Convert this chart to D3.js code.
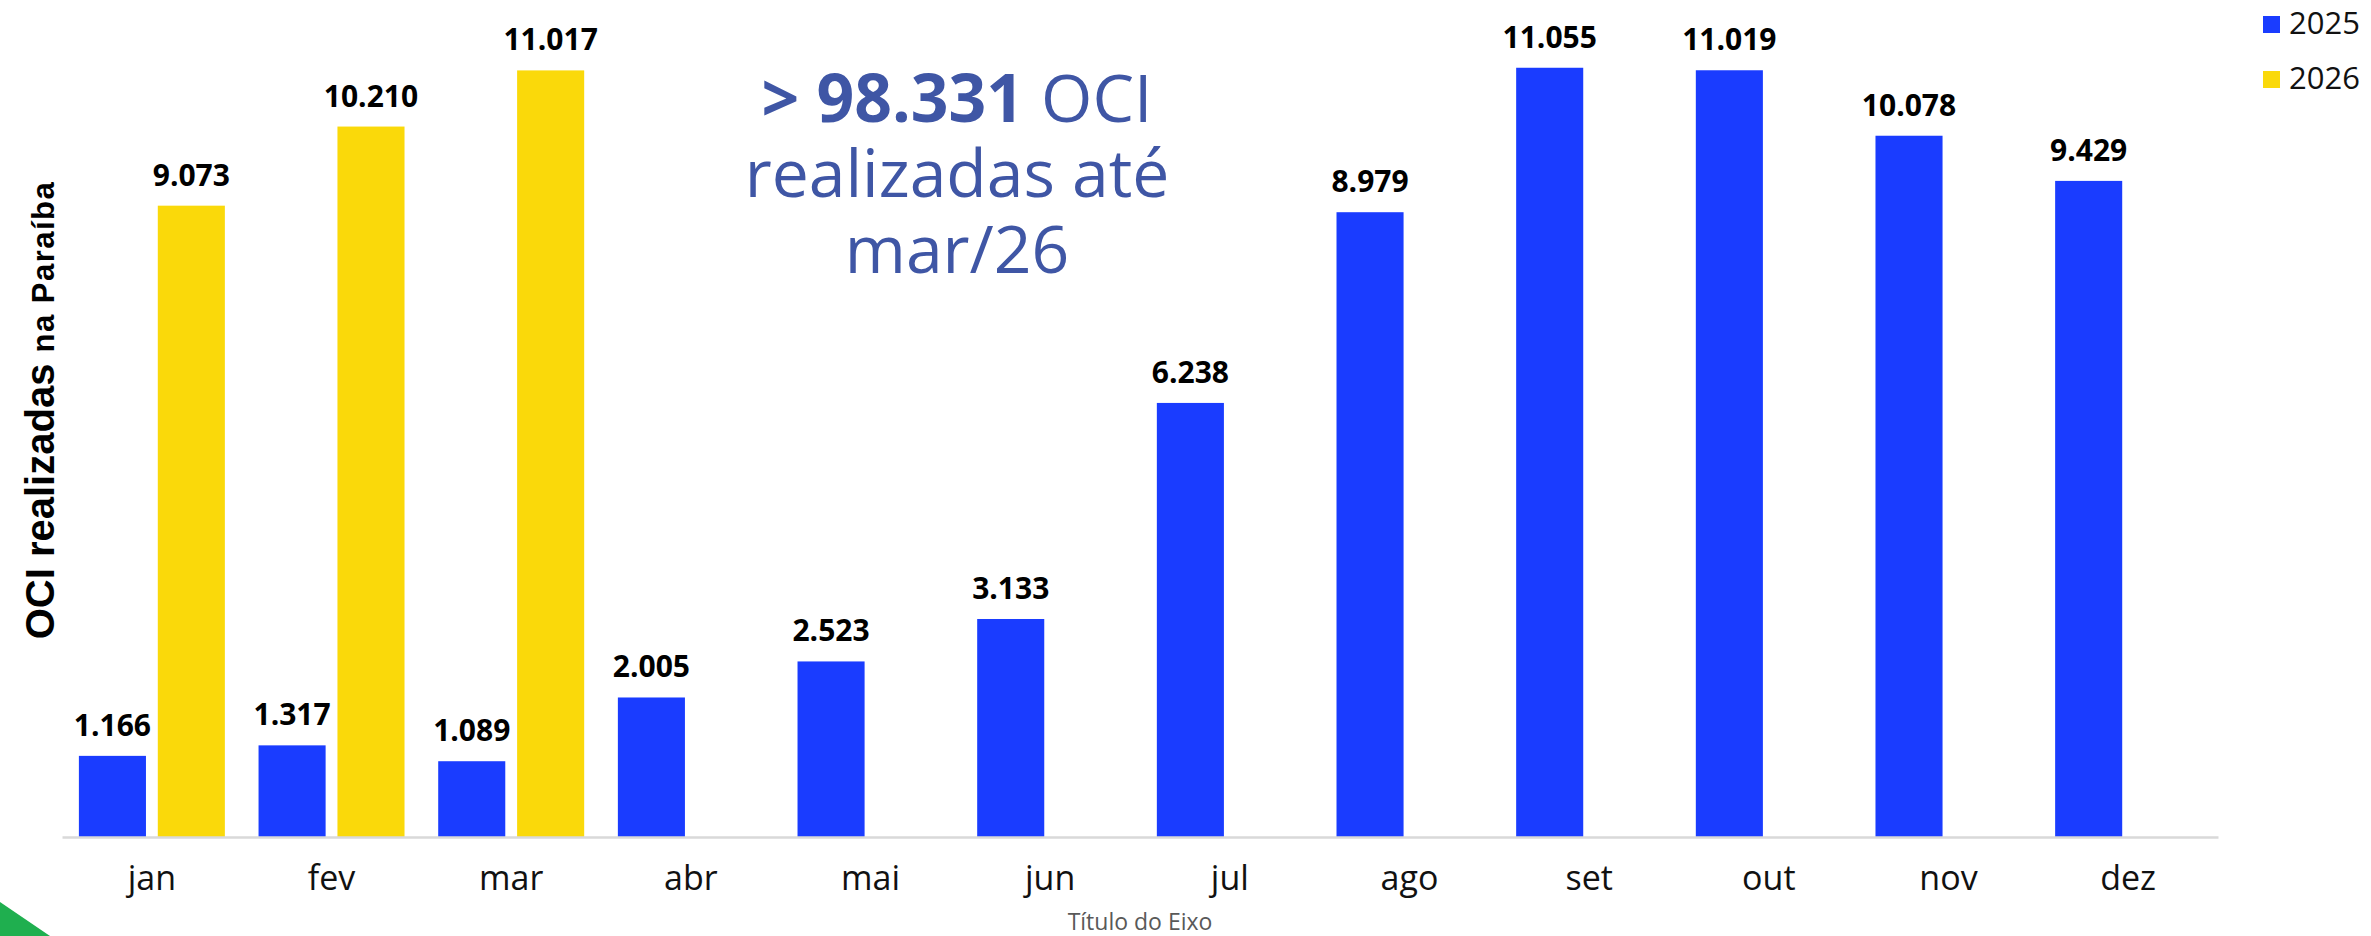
<!DOCTYPE html>
<html lang="pt">
<head>
<meta charset="UTF-8">
<title>OCI realizadas na Paraíba</title>
<script src="https://cdn.jsdelivr.net/npm/d3@7"></script>
<style>
  body { margin: 0; background: #fff; }
  svg { display: block; }
</style>
</head>
<body>
<div id="app"></div>
<script>
var width = 2371;
var height = 936;

// dados
var months = ["jan", "fev", "mar", "abr", "mai", "jun", "jul", "ago", "set", "out", "nov", "dez"];
var series = ["2025", "2026"];
var values2025 = [1166, 1317, 1089, 2005, 2523, 3133, 6238, 8979, 11055, 11019, 10078, 9429];
var values2026 = [9073, 10210, 11017, null, null, null, null, null, null, null, null, null];
var colors = { "2025": "#1a3cff", "2026": "#fad90a" };

var plot = { left: 62, right: 2218, top: 2, bottom: 837 };

var svg = d3.select("#app").append("svg")
    .attr("width", width)
    .attr("height", height);

svg.append("rect").attr("width", width).attr("height", height).attr("fill", "#fff");

var pt = d3.formatLocale({ decimal: ",", thousands: ".", grouping: [3], currency: ["R$", ""] });
var fmt = pt.format(",d");

var x0 = d3.scaleBand()
    .domain(months)
    .range([plot.left, plot.right])
    .paddingInner(0.1875)
    .paddingOuter(0.094);

var x1 = d3.scaleBand()
    .domain(series)
    .range([0, x0.bandwidth()])
    .paddingInner(0.15);

var y = d3.scaleLinear()
    .domain([0, 12000])
    .range([plot.bottom, plot.top]);

// tabela para desenhar
var rows = [];
months.forEach(function (m, i) {
    if (values2025[i] != null) rows.push({ month: m, serie: "2025", value: values2025[i] });
    if (values2026[i] != null) rows.push({ month: m, serie: "2026", value: values2026[i] });
});

var bars = svg.append("g");
bars.selectAll("rect")
    .data(rows)
    .enter()
    .append("rect")
    .attr("x", function (d) { return x0(d.month) + x1(d.serie); })
    .attr("y", function (d) { return y(d.value); })
    .attr("width", x1.bandwidth())
    .attr("height", function (d) { return y(0) - y(d.value); })
    .attr("fill", function (d) { return colors[d.serie]; });

bars.selectAll("text")
    .data(rows)
    .enter()
    .append("text")
    .attr("x", function (d) { return x0(d.month) + x1(d.serie) + x1.bandwidth() / 2; })
    .attr("y", function (d) { return y(d.value) - 20; })
    .attr("text-anchor", "middle")
    .style("font-family", "'Open Sans', sans-serif")
    .style("font-weight", "700")
    .style("font-size", "30px")
    .attr("fill", "#000")
    .text(function (d) { return fmt(d.value); });

// eixo x
var xAxis = svg.append("g")
    .attr("transform", "translate(0," + plot.bottom + ")")
    .call(d3.axisBottom(x0).tickSize(0).tickPadding(53));
xAxis.select(".domain").attr("stroke", "#d9d9d9").attr("stroke-width", 2.5);
xAxis.selectAll("text")
    .style("font-family", "'Open Sans', sans-serif")
    .style("font-size", "34px")
    .attr("fill", "#111")
    .attr("dy", 0);

svg.append("text")
    .attr("x", (plot.left + plot.right) / 2)
    .attr("y", 930)
    .attr("text-anchor", "middle")
    .style("font-family", "'Open Sans', sans-serif")
    .style("font-size", "23px")
    .attr("fill", "#595959")
    .text("Título do Eixo");

// titulo do eixo y
var yt = svg.append("text")
    .attr("transform", "translate(54,410) rotate(-90)")
    .attr("text-anchor", "middle")
    .style("font-family", "'Liberation Sans', Arial, sans-serif")
    .style("font-weight", "700")
    .attr("fill", "#000");
yt.append("tspan").style("font-size", "40px").text("OCI realizadas ");
yt.append("tspan").style("font-size", "31px").style("letter-spacing", "1.5px").text("na Paraíba");

// destaque
var title = svg.append("text")
    .attr("text-anchor", "middle")
    .style("font-family", "'Open Sans', sans-serif")
    .style("font-size", "66px")
    .attr("fill", "#3f56a5");
var l1 = title.append("tspan").attr("x", 957).attr("y", 122);
l1.append("tspan").style("font-weight", "700").text("> 98.331");
l1.append("tspan").text(" OCI");
title.append("tspan").attr("x", 957).attr("y", 197).text("realizadas até");
title.append("tspan").attr("x", 957).attr("y", 273).text("mar/26");

// legenda
var legend = svg.append("g").selectAll("g")
    .data(series)
    .enter()
    .append("g")
    .attr("transform", function (d, i) { return "translate(2263," + (16 + i * 55) + ")"; });
legend.append("rect")
    .attr("width", 17)
    .attr("height", 17)
    .attr("fill", function (d) { return colors[d]; });
legend.append("text")
    .attr("x", 26)
    .attr("y", 18)
    .style("font-family", "'Open Sans', sans-serif")
    .style("font-size", "31px")
    .attr("fill", "#111")
    .text(function (d) { return d; });

// canto verde
svg.append("path")
    .attr("d", "M0,902 L50,936 L0,936 Z")
    .attr("fill", "#1faf4f");
</script>
</body>
</html>
